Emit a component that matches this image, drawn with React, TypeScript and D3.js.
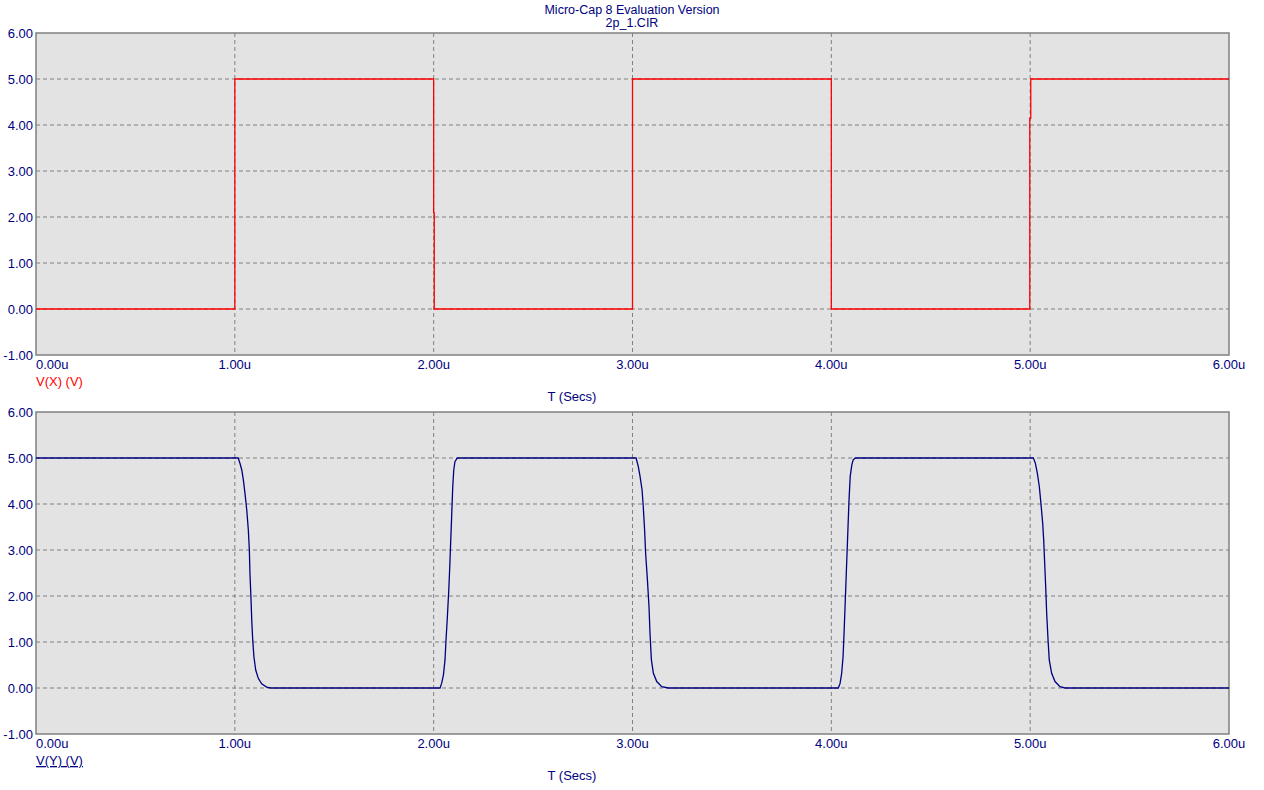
import React from 'react';
import * as d3 from 'd3';

// chart text
const titleLines = ['Micro-Cap 8 Evaluation Version', '2p_1.CIR'];
const xTicks = [0, 1, 2, 3, 4, 5, 6];
const yTicks = [6, 5, 4, 3, 2, 1, 0, -1];
const xLabel = 'T (Secs)';

// V(X): ideal square wave (time in us, volts)
const vxTime = [0, 1, 1, 2, 2, 2.003, 2.003, 3, 3, 4, 4, 4.998, 4.998, 5.003, 5.003, 6];
const vxVolt = [0, 0, 5, 5, 2.09, 2.09, 0, 0, 5, 5, 0, 0, 4.15, 4.15, 5, 5];

// V(Y): inverted, slowed output
const vyTime = [
  0, 1.017, 1.026, 1.035, 1.043, 1.051, 1.06, 1.068, 1.073, 1.076, 1.081, 1.085, 1.09, 1.096, 1.105, 1.118, 1.135, 1.16, 1.18,
  2.032, 2.04, 2.049, 2.057, 2.062, 2.069, 2.076, 2.081, 2.086, 2.091, 2.096, 2.101, 2.107, 2.119,
  3.018, 3.029, 3.038, 3.048, 3.054, 3.061, 3.066, 3.075, 3.083, 3.088, 3.095, 3.105, 3.122, 3.147, 3.18,
  4.035, 4.044, 4.052, 4.059, 4.064, 4.069, 4.074, 4.079, 4.084, 4.089, 4.095, 4.103, 4.11, 4.121,
  5.016, 5.026, 5.036, 5.046, 5.054, 5.063, 5.068, 5.073, 5.078, 5.083, 5.09, 5.096, 5.108, 5.125, 5.15, 5.175,
  6,
];
const vyVolt = [
  5, 5, 4.88, 4.74, 4.52, 4.23, 3.87, 3.43, 3.0, 2.49, 1.98, 1.48, 1.04, 0.68, 0.39, 0.21, 0.09, 0.02, 0,
  0, 0.1, 0.28, 0.61, 1.04, 1.55, 2.13, 2.64, 3.22, 3.8, 4.38, 4.74, 4.92, 5,
  5, 4.82, 4.6, 4.31, 3.95, 3.43, 2.93, 2.35, 1.77, 1.19, 0.61, 0.32, 0.14, 0.03, 0,
  0, 0.1, 0.32, 0.68, 1.19, 1.77, 2.35, 2.93, 3.51, 4.09, 4.6, 4.85, 4.96, 5,
  5, 4.89, 4.67, 4.38, 4.02, 3.58, 3.22, 2.71, 2.21, 1.63, 1.04, 0.61, 0.32, 0.14, 0.03, 0,
  0,
];

const W = 1264;
const H = 790;
const left = 36;
const right = 1229;
const font = '"Liberation Sans", Arial, sans-serif';
const navy = '#000080';
const gridGrey = '#808080';

type PanelProps = {
  top: number;
  bottom: number;
  times: number[];
  volts: number[];
  color: string;
  legend: string;
  underline: boolean;
};

const Panel = ({ top, bottom, times, volts, color, legend, underline }: PanelProps) => {
  const x = d3.scaleLinear().domain([0, 6]).range([left, right]);
  const y = d3.scaleLinear().domain([-1, 6]).range([bottom, top]);
  const pts: [number, number][] = times.map((t, i) => [t, volts[i]]);
  const line = d3.line<[number, number]>()
    .x(d => x(d[0]))
    .y(d => y(d[1]));

  return (
    <g>
      <rect x={left} y={top} width={right - left} height={bottom - top} fill="#e3e3e3" />
      {xTicks.slice(1, -1).map(t => (
        <line key={'vx' + t} x1={x(t)} x2={x(t)} y1={top} y2={bottom}
          stroke={gridGrey} strokeWidth={1} strokeDasharray="4,3" />
      ))}
      {yTicks.slice(1, -1).map(v => (
        <line key={'hy' + v} x1={left} x2={right} y1={y(v)} y2={y(v)}
          stroke={gridGrey} strokeWidth={1} strokeDasharray="4,3" />
      ))}
      <rect x={left} y={top} width={right - left} height={bottom - top}
        fill="none" stroke={gridGrey} strokeWidth={1.5} />
      <path d={line(pts) || ''} fill="none" stroke={color} strokeWidth={1.3} />
      {yTicks.map(v => (
        <text key={'yl' + v} x={33} y={y(v) + 5} textAnchor="end"
          fontSize={13} fill={navy} fontFamily={font}>{v.toFixed(2)}</text>
      ))}
      {xTicks.map((t, i) => (
        <text key={'xl' + t} x={i === 0 ? left : x(t)} y={bottom + 14}
          textAnchor={i === 0 ? 'start' : 'middle'}
          fontSize={13} fill={navy} fontFamily={font}>{t.toFixed(2) + 'u'}</text>
      ))}
      <text x={left} y={bottom + 31} fontSize={13} fill={color} fontFamily={font}
        textDecoration={underline ? 'underline' : undefined}>{legend}</text>
      <text x={572} y={bottom + 46} textAnchor="middle" fontSize={13} fill={navy}
        fontFamily={font}>{xLabel}</text>
    </g>
  );
};

export default function App() {
  return (
    <div style={{ position: 'absolute', left: 0, top: 0, width: W, height: H, background: '#fff' }}>
      <svg width={W} height={H}>
        {titleLines.map((s, i) => (
          <text key={s} x={632} y={14 + i * 13} textAnchor="middle" fontSize={12.5}
            fill={navy} fontFamily={font}>{s}</text>
        ))}
        <Panel top={33} bottom={355} times={vxTime} volts={vxVolt} color="#ff0000"
          legend="V(X) (V)" underline={false} />
        <Panel top={412} bottom={734} times={vyTime} volts={vyVolt} color={navy}
          legend="V(Y) (V)" underline={true} />
      </svg>
    </div>
  );
}
